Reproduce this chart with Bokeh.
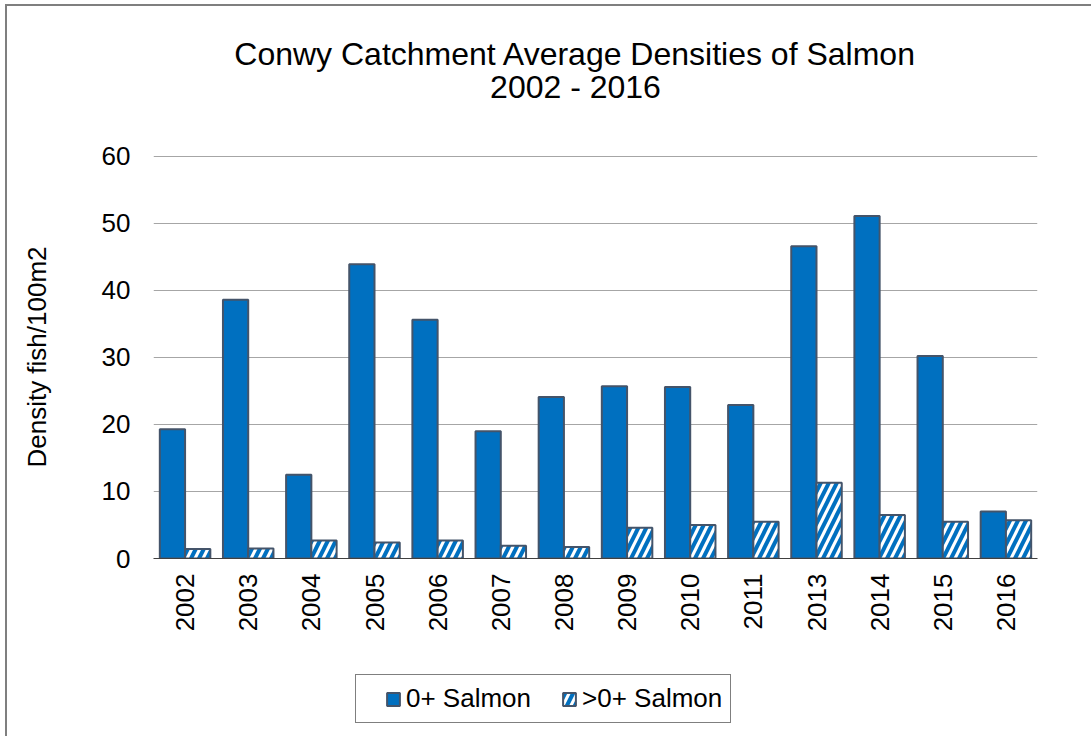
import math
from bokeh.plotting import figure
from bokeh.layouts import column
from bokeh.models import (ColumnDataSource, Range1d, Label, Legend, LegendItem,
                          SingleIntervalTicker, FactorRange)
from bokeh.transform import dodge
from bokeh.embed import file_html
from bokeh.resources import INLINE

# ---------------- data ----------------
years = ["2002", "2003", "2004", "2005", "2006", "2007", "2008",
         "2009", "2010", "2011", "2013", "2014", "2015", "2016"]
salmon_0plus = [19.3, 38.6, 12.5, 43.9, 35.6, 19.0, 24.1,
                25.7, 25.6, 22.9, 46.6, 51.1, 30.2, 7.0]
salmon_older = [1.4, 1.5, 2.7, 2.4, 2.7, 1.9, 1.7,
                4.6, 5.0, 5.5, 11.3, 6.5, 5.5, 5.7]
series_labels = ["0+ Salmon", ">0+ Salmon"]
title_lines = ["Conwy Catchment Average Densities of Salmon", "2002 - 2016"]
y_label = "Density fish/100m2"
y_max = 60
y_step = 10

# ---------------- style ----------------
FONT = "Liberation Sans"
BLUE = "#0070C0"
EDGE = "#44546A"
W = 1084

young_style = dict(fill_color=BLUE, line_color=EDGE, line_width=2)
older_style = dict(fill_color="white", hatch_pattern="right_diagonal_line",
                   hatch_color=BLUE, hatch_scale=16, hatch_weight=4,
                   line_color=EDGE, line_width=2)

src = ColumnDataSource(dict(year=years, young=salmon_0plus, older=salmon_older))


def bare(height, x_range, y_range):
    f = figure(width=W, height=height, x_range=x_range, y_range=y_range,
               x_axis_location=None, y_axis_location=None, min_border=0,
               output_backend="svg", toolbar_location=None)
    f.outline_line_color = None
    f.grid.visible = False
    return f


# ---------------- title strip ----------------
t = bare(110, Range1d(0, 1), Range1d(0, 1))
for txt, yy in zip(title_lines, [63, 30]):
    t.add_layout(Label(x=422, y=yy, x_units="screen", y_units="screen", text=txt,
                       text_font=FONT, text_font_size="32px", text_color="black",
                       text_align="center", text_baseline="alphabetic"))

# ---------------- main chart ----------------
p = figure(x_range=years, y_range=Range1d(0, y_max + 0.12),
           width=W, height=550,
           min_border_left=146, min_border_right=54,
           min_border_top=39, min_border_bottom=108,
           output_backend="svg", toolbar_location=None)

p.vbar(x=dodge("year", -0.2, range=p.x_range), top="young", width=0.4,
       source=src, **young_style)
p.vbar(x=dodge("year", 0.2, range=p.x_range), top="older", width=0.4,
       source=src, **older_style)

p.outline_line_color = None
p.xgrid.grid_line_color = None
p.ygrid.grid_line_color = "#A6A6A6"
p.ygrid.grid_line_width = 1

p.xaxis.major_label_orientation = math.pi / 2
p.xaxis.major_label_standoff = 9
p.xaxis.major_tick_line_color = None
p.xaxis.minor_tick_line_color = None
p.xaxis.axis_line_color = "#404040"
p.xaxis.axis_line_width = 1.2
p.xaxis.major_label_text_font = FONT
p.xaxis.major_label_text_font_size = "26px"
p.xaxis.major_label_text_color = "black"

p.yaxis.ticker = SingleIntervalTicker(interval=y_step)
p.yaxis.axis_line_color = None
p.yaxis.major_tick_line_color = None
p.yaxis.minor_tick_line_color = None
p.yaxis.major_label_standoff = 17
p.yaxis.major_label_text_font = FONT
p.yaxis.major_label_text_font_size = "26px"
p.yaxis.major_label_text_color = "black"
p.yaxis.axis_label = y_label
p.yaxis.axis_label_text_font = FONT
p.yaxis.axis_label_text_font_size = "26px"
p.yaxis.axis_label_text_font_style = "normal"
p.yaxis.axis_label_text_color = "black"
p.yaxis.axis_label_standoff = 47

# ---------------- legend strip (hidden series copies, legend only) ----------------
lg = bare(70, FactorRange(*years), Range1d(0, y_max))
k1 = lg.vbar(x=dodge("year", -0.2, range=lg.x_range), top="young", width=0.4,
             source=src, visible=False, **young_style)
k2 = lg.vbar(x=dodge("year", 0.2, range=lg.x_range), top="older", width=0.4,
             source=src, visible=False, **older_style)
legend = Legend(items=[LegendItem(label=series_labels[0], renderers=[k1]),
                       LegendItem(label=series_labels[1], renderers=[k2])],
                orientation="horizontal", location=(202, 13),
                title=" ", title_location="left", title_text_font_size="12px",
                title_standoff=7,
                padding=8, spacing=30, margin=0, label_standoff=5,
                glyph_width=16, glyph_height=16,
                label_text_font=FONT, label_text_font_size="26px",
                label_text_color="black",
                border_line_color="black", border_line_width=1,
                background_fill_color="white", background_fill_alpha=1)
lg.add_layout(legend, "center")

page = column(t, p, lg, spacing=0)
page.styles = {"margin-left": "5px", "margin-top": "4px",
               "border-left": "2px solid #7F7F7F", "border-top": "2px solid #7F7F7F"}

open("out.html", "w").write(file_html(page, INLINE))
